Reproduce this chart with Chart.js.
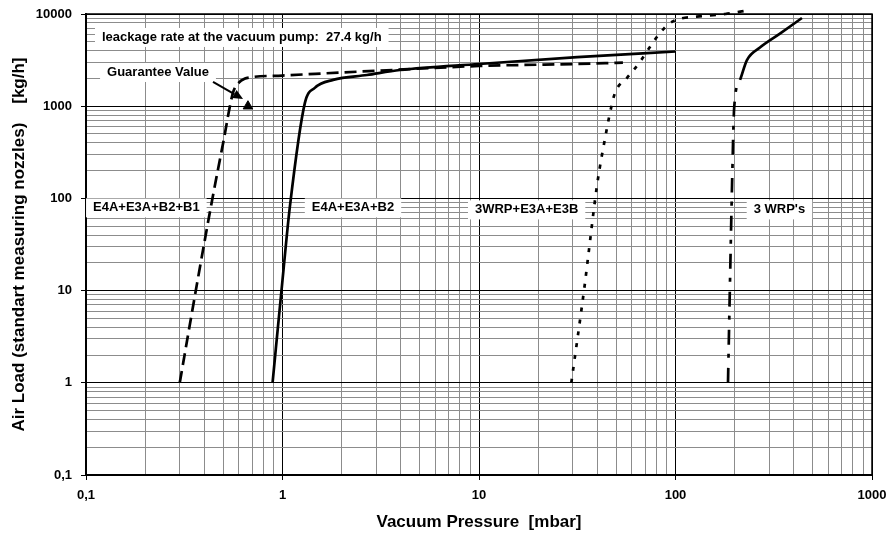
<!DOCTYPE html>
<html><head><meta charset="utf-8">
<script src="https://cdn.jsdelivr.net/npm/chart.js@4/dist/chart.umd.min.js"></script>
<style>html,body{margin:0;padding:0;background:#fff}canvas{display:block}</style>
</head><body>
<canvas id="c" width="890" height="535"></canvas>
<script>
// ---- data ----
const seriesNames = ['E4A+E3A+B2+B1', 'E4A+E3A+B2', '3WRP+E3A+E3B', "3 WRP's"];

const xB1 = [0.3, 0.37, 0.44, 0.5, 0.56, 0.6, 0.64, 0.7, 1, 2, 3.1, 10, 31.6, 54];
const yB1 = [1, 13, 100, 410, 1400, 1800, 1980, 2070, 2150, 2320, 2430, 2730, 2870, 2970];

const xB2 = [0.89, 1.0, 1.09, 1.3, 1.46, 1.81, 2.69, 3.96, 10, 31.6, 100];
const yB2 = [1, 13, 81, 1085, 1580, 1930, 2180, 2470, 2870, 3400, 3920];

const xE3B = [29.5, 34.6, 35.9, 39.9, 44.8, 46.4, 49.2, 56.6, 65.9, 74.1, 83.4, 93.7, 108, 128, 179, 239];
const yE3B = [1, 12, 23, 140, 580, 845, 1390, 2020, 3020, 4390, 6220, 7980, 9000, 9350, 10000, 11050];

const xWRP = [185, 189, 194, 199, 213, 231, 269, 340, 440];
const yWRP = [1, 10, 140, 980, 1930, 3170, 4330, 6120, 9050];

const guaranteeX = [0.667];
const guaranteeY = [1000];

const xTickLabels = ['0,1', '1', '10', '100', '1000'];
const yTickLabels = ['0,1', '1', '10', '100', '1000', '10000'];

const leakText = 'leackage rate at the vacuum pump:  27.4 kg/h';
const guaranteeText = 'Guarantee Value';

// ---- helpers ----
const FONT = '"Liberation Sans", Arial, Helvetica, sans-serif';
const pts = (xs, ys) => xs.map((x, i) => ({x, y: ys[i]}));
const isMajor = v => Math.abs(Math.log10(v) - Math.round(Math.log10(v))) < 1e-9;
function logTicks(minExp, maxExp) {
  const t = [];
  for (let d = minExp; d < maxExp; d++) {
    for (let m = 1; m <= 9; m++) t.push({value: parseFloat((m * Math.pow(10, d)).toPrecision(6))});
  }
  t.push({value: Math.pow(10, maxExp)});
  return t;
}

// label anchors (data coordinates, left edge / vertical middle of the text)
const notes = [
  {text: leakText, x: 0.1206, y: 5636},
  {text: guaranteeText, x: 0.128, y: 2350},
  {text: seriesNames[0], x: 0.1086, y: 80},
  {text: seriesNames[1], x: 1.41, y: 80},
  {text: seriesNames[2], x: 9.54, y: 76},
  {text: seriesNames[3], x: 250, y: 76}
];
const arrow = {x0: 0.443, y0: 1832, x1: 0.63, y1: 1199};

const notePlugin = {
  id: 'notes',
  beforeDatasetsDraw(chart) {
    const {ctx, chartArea: a, scales: {x, y}} = chart;
    ctx.save();
    ctx.strokeStyle = '#000';
    ctx.lineWidth = 1.5;
    ctx.strokeRect(a.left, a.top, a.right - a.left, a.bottom - a.top);
    ctx.font = 'bold 13px ' + FONT;
    ctx.textBaseline = 'middle';
    ctx.textAlign = 'left';
    for (const n of notes) {
      const px = x.getPixelForValue(n.x), py = y.getPixelForValue(n.y);
      const w = ctx.measureText(n.text).width;
      ctx.fillStyle = '#fff';
      ctx.fillRect(px - 7, py - 9, w + 14, 19);
      ctx.fillStyle = '#000';
      ctx.fillText(n.text, px, py + 0.5);
    }
    ctx.restore();
  },
  afterDatasetsDraw(chart) {
    const {ctx, scales: {x, y}} = chart;
    const x0 = x.getPixelForValue(arrow.x0), y0 = y.getPixelForValue(arrow.y0);
    const x1 = x.getPixelForValue(arrow.x1), y1 = y.getPixelForValue(arrow.y1);
    const ang = Math.atan2(y1 - y0, x1 - x0);
    const L = 10, H = 4.5;
    ctx.save();
    ctx.strokeStyle = '#000'; ctx.fillStyle = '#000'; ctx.lineWidth = 2;
    ctx.beginPath();
    ctx.moveTo(x0, y0);
    ctx.lineTo(x1 - L * Math.cos(ang), y1 - L * Math.sin(ang));
    ctx.stroke();
    ctx.beginPath();
    ctx.moveTo(x1, y1);
    ctx.lineTo(x1 - L * Math.cos(ang) + H * Math.sin(ang), y1 - L * Math.sin(ang) - H * Math.cos(ang));
    ctx.lineTo(x1 - L * Math.cos(ang) - H * Math.sin(ang), y1 - L * Math.sin(ang) + H * Math.cos(ang));
    ctx.closePath();
    ctx.fill();
    ctx.restore();
  }
};

const lineBase = {
  showLine: true, pointRadius: 0, borderColor: '#000', backgroundColor: '#000',
  borderWidth: 2.7, cubicInterpolationMode: 'monotone', fill: false
};

new Chart(document.getElementById('c'), {
  type: 'scatter',
  data: {
    datasets: [
      Object.assign({}, lineBase, {label: seriesNames[0], data: pts(xB1, yB1), borderDash: [12, 6]}),
      Object.assign({}, lineBase, {label: seriesNames[1], data: pts(xB2, yB2)}),
      Object.assign({}, lineBase, {label: seriesNames[2], data: pts(xE3B, yE3B), borderDash: [4, 8], clip: false,
        segment: {borderDash: c => c.p0.parsed.x >= 100 ? [6, 8] : [4, 8]}}),
      Object.assign({}, lineBase, {label: seriesNames[3], data: pts(xWRP, yWRP), borderDash: [15, 10, 4, 9],
        segment: {borderDash: c => c.p0.parsed.y >= 1900 ? [] : [15, 10, 4, 9]}}),
      {label: guaranteeText, data: pts(guaranteeX, guaranteeY), showLine: false, pointStyle: 'triangle',
        pointRadius: 5.5, backgroundColor: '#000', borderColor: '#000', borderWidth: 1}
    ]
  },
  options: {
    responsive: false, animation: false,
    layout: {padding: {top: 14, right: 18, bottom: 0, left: 0}},
    plugins: {legend: {display: false}, tooltip: {enabled: false}},
    scales: {
      x: {
        type: 'logarithmic', min: 0.1, max: 1000,
        afterBuildTicks: s => { s.ticks = logTicks(-1, 3); },
        afterFit: s => { s.height = 60; s.paddingLeft = 0; s.paddingRight = 0; },
        ticks: {
          autoSkip: false, maxRotation: 0, padding: 8, color: '#000',
          font: {family: FONT, size: 13, weight: 'bold'},
          callback: v => isMajor(v) ? xTickLabels[Math.round(Math.log10(v)) + 1] : ''
        },
        grid: {
          color: c => isMajor(c.tick.value) ? '#000' : '#8c8c8c',
          tickColor: c => isMajor(c.tick.value) ? '#000' : 'rgba(0,0,0,0)',
          tickLength: 5, lineWidth: 1
        },
        border: {color: '#000', width: 2},
        title: {display: true, text: 'Vacuum Pressure  [mbar]', color: '#000',
          font: {family: FONT, size: 17, weight: 'bold'}, padding: {top: 0, bottom: 2}}
      },
      y: {
        type: 'logarithmic', min: 0.1, max: 10000,
        afterBuildTicks: s => { s.ticks = logTicks(-1, 4); },
        afterFit: s => { s.width = 86; s.paddingTop = 0; s.paddingBottom = 0; },
        ticks: {
          autoSkip: false, padding: 9, color: '#000',
          font: {family: FONT, size: 13, weight: 'bold'},
          callback: v => isMajor(v) ? yTickLabels[Math.round(Math.log10(v)) + 1] : ''
        },
        grid: {
          color: c => isMajor(c.tick.value) ? '#000' : '#8c8c8c',
          tickColor: c => isMajor(c.tick.value) ? '#000' : 'rgba(0,0,0,0)',
          tickLength: 5, lineWidth: 1
        },
        border: {color: '#000', width: 2},
        title: {display: true, text: 'Air Load (standart measuring nozzles)    [kg/h]', color: '#000',
          font: {family: FONT, size: 17, weight: 'bold'}, padding: {top: 9, bottom: 0}}
      }
    }
  },
  plugins: [notePlugin]
});
</script>
</body></html>
